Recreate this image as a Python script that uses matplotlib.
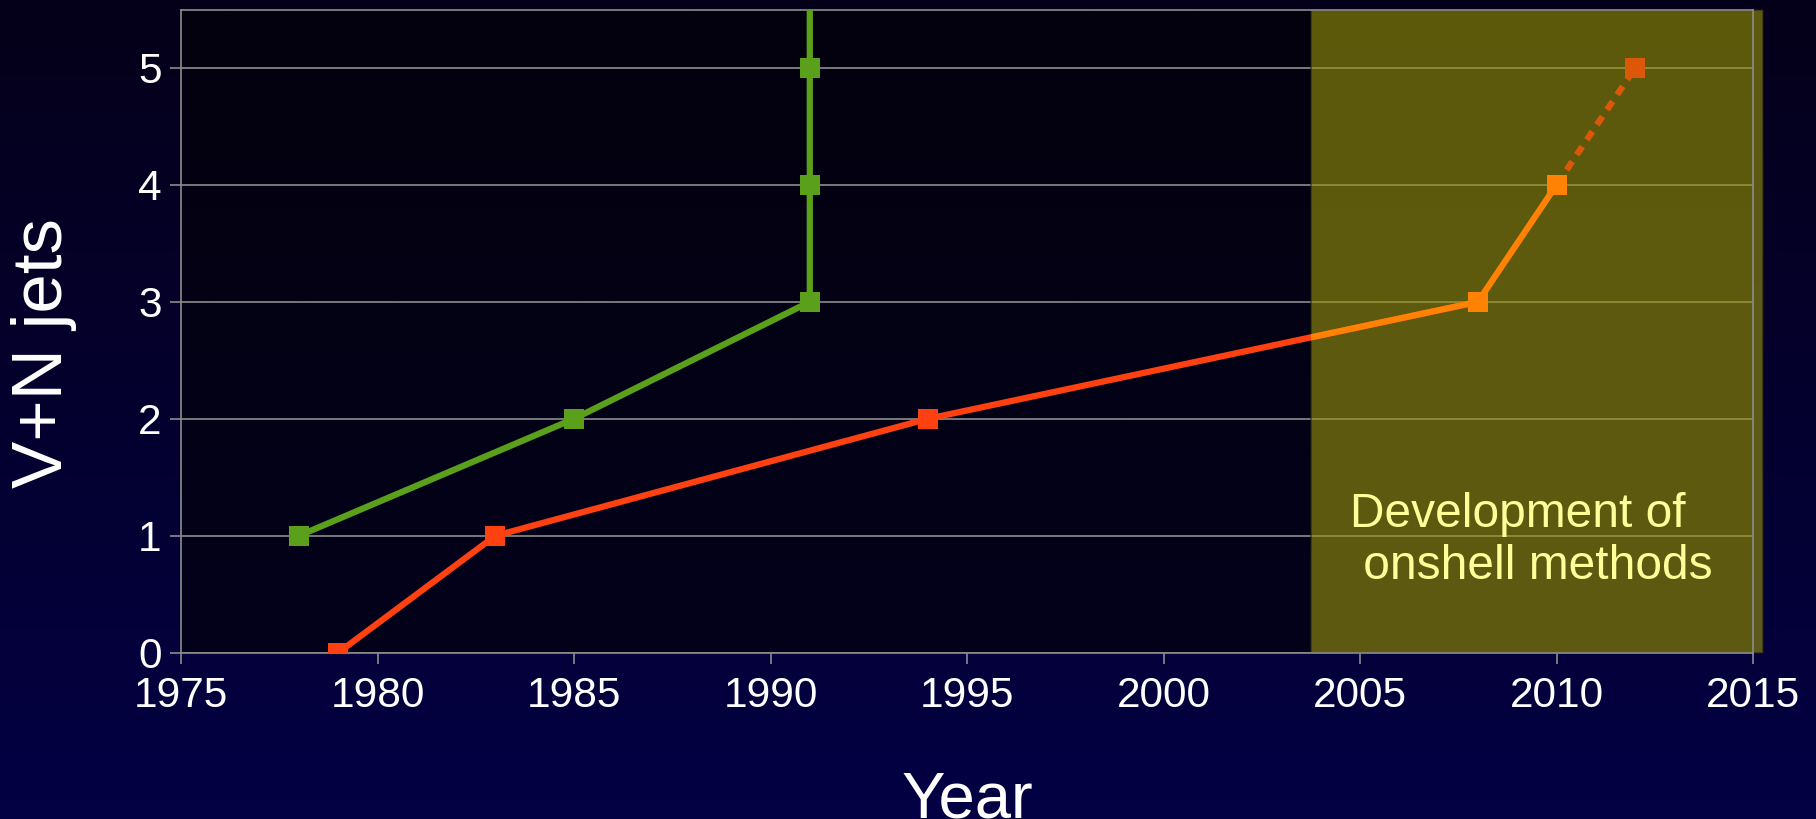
import numpy as np
import matplotlib
matplotlib.use("Agg")
import matplotlib.pyplot as plt
from matplotlib.patches import Rectangle

plt.rcParams['font.family'] = ['Liberation Sans', 'DejaVu Sans']

# Multiplicity of V+N jet calculations by year
green_years = [1978, 1985, 1991, 1991, 1991, 1991]
green_jets = [1, 2, 3, 4, 5, 6]

red_years = [1979, 1983, 1994, 2008]
red_jets = [0, 1, 2, 3]

orange_years = [2008, 2010]
orange_jets = [3, 4]

projected_years = [2010, 2012]
projected_jets = [4, 5]

band_start, band_end = 2003.76, 2015.25
band_label = "Development of\n onshell methods"

x_ticks = [1975, 1980, 1985, 1990, 1995, 2000, 2005, 2010, 2015]
y_ticks = [0, 1, 2, 3, 4, 5]

GREEN = "#5aa01a"
RED = "#ff4010"
ORANGE = "#ff8205"
DARK_ORANGE = "#dc5808"
GRID = "#8c8c8c"

W, H, DPI = 1816, 819, 100
fig = plt.figure(figsize=(W / DPI, H / DPI), dpi=DPI)

# vertical gradient background for the whole figure
bg = fig.add_axes([0, 0, 1, 1], zorder=-10)
top_c = np.array([5, 0, 25]) / 255
bot_c = np.array([3, 0, 68]) / 255
t = np.linspace(0, 1, 256)[:, None]
grad = top_c[None, :] * (1 - t) + bot_c[None, :] * t
bg.imshow(grad[:, None, :], aspect="auto", extent=[0, 1, 0, 1])
bg.set_axis_off()

ax = fig.add_axes([181 / W, 1 - 652.7 / H, (1753 - 181) / W, (652.7 - 9.5) / H])
ax.set_xlim(1975, 2015)
ax.set_ylim(0, 5.5)
ax.patch.set_alpha(0)

# dark plot area with a faint gradient
pa_top = np.array([3, 1, 14]) / 255
pa_bot = np.array([4, 1, 27]) / 255
pa = pa_top[None, :] * (1 - t) + pa_bot[None, :] * t
ax.imshow(pa[:, None, :], aspect="auto", extent=[1975, 2015, 0, 5.5], zorder=0)

ax.set_yticks(y_ticks)
ax.set_xticks(x_ticks)
ax.yaxis.grid(True, color=GRID, linewidth=1.2, zorder=0.5)
ax.set_axisbelow(True)
for s in ax.spines.values():
    s.set_color(GRID)
    s.set_linewidth(1.2)
ax.tick_params(axis="both", colors=GRID, length=8, width=1.2, labelcolor="white",
               labelsize=30.5)
ax.tick_params(axis="y", pad=6)
ax.tick_params(axis="x", pad=9)

# highlighted band
band = Rectangle((band_start, 0), band_end - band_start, 5.5,
                 facecolor="#9a950a", alpha=0.6, edgecolor="#202010",
                 linewidth=1.2, zorder=1.5, clip_on=False)
ax.add_patch(band)

lw = 4.5
ms = 14.5

ax.plot(green_years, green_jets, color=GREEN, lw=lw, marker="s", ms=ms,
        markeredgewidth=0, zorder=3)

ax.plot(red_years, red_jets, color=RED, lw=lw, marker="s", ms=ms,
        markeredgewidth=0, zorder=3)
# the same line turns orange inside the band
inside, = ax.plot(red_years, red_jets, color=ORANGE, lw=lw, marker="s", ms=ms,
                  markeredgewidth=0, zorder=3.1)
inside.set_clip_path(band)

ax.plot(projected_years, projected_jets, color=DARK_ORANGE, lw=lw,
        linestyle=(0, (1.6, 1.3)), dash_capstyle="butt", marker="s", ms=ms,
        markeredgewidth=0, markevery=[1], zorder=3)
ax.plot(orange_years, orange_jets, color=ORANGE, lw=lw, marker="s", ms=ms,
        markeredgewidth=0, zorder=3.2)

ax.text(2004.75, 0.63, band_label, color="#ffff99", fontsize=34.5,
        ha="left", va="baseline", linespacing=1.2, zorder=4)

ax.set_xlabel("Year", color="white", fontsize=47, labelpad=39)
ax.set_ylabel("V+N jets", color="white", fontsize=51, va="center")
ax.yaxis.set_label_coords(-0.087, 0.466)

fig.savefig("out.png", dpi=DPI, facecolor=fig.get_facecolor())
